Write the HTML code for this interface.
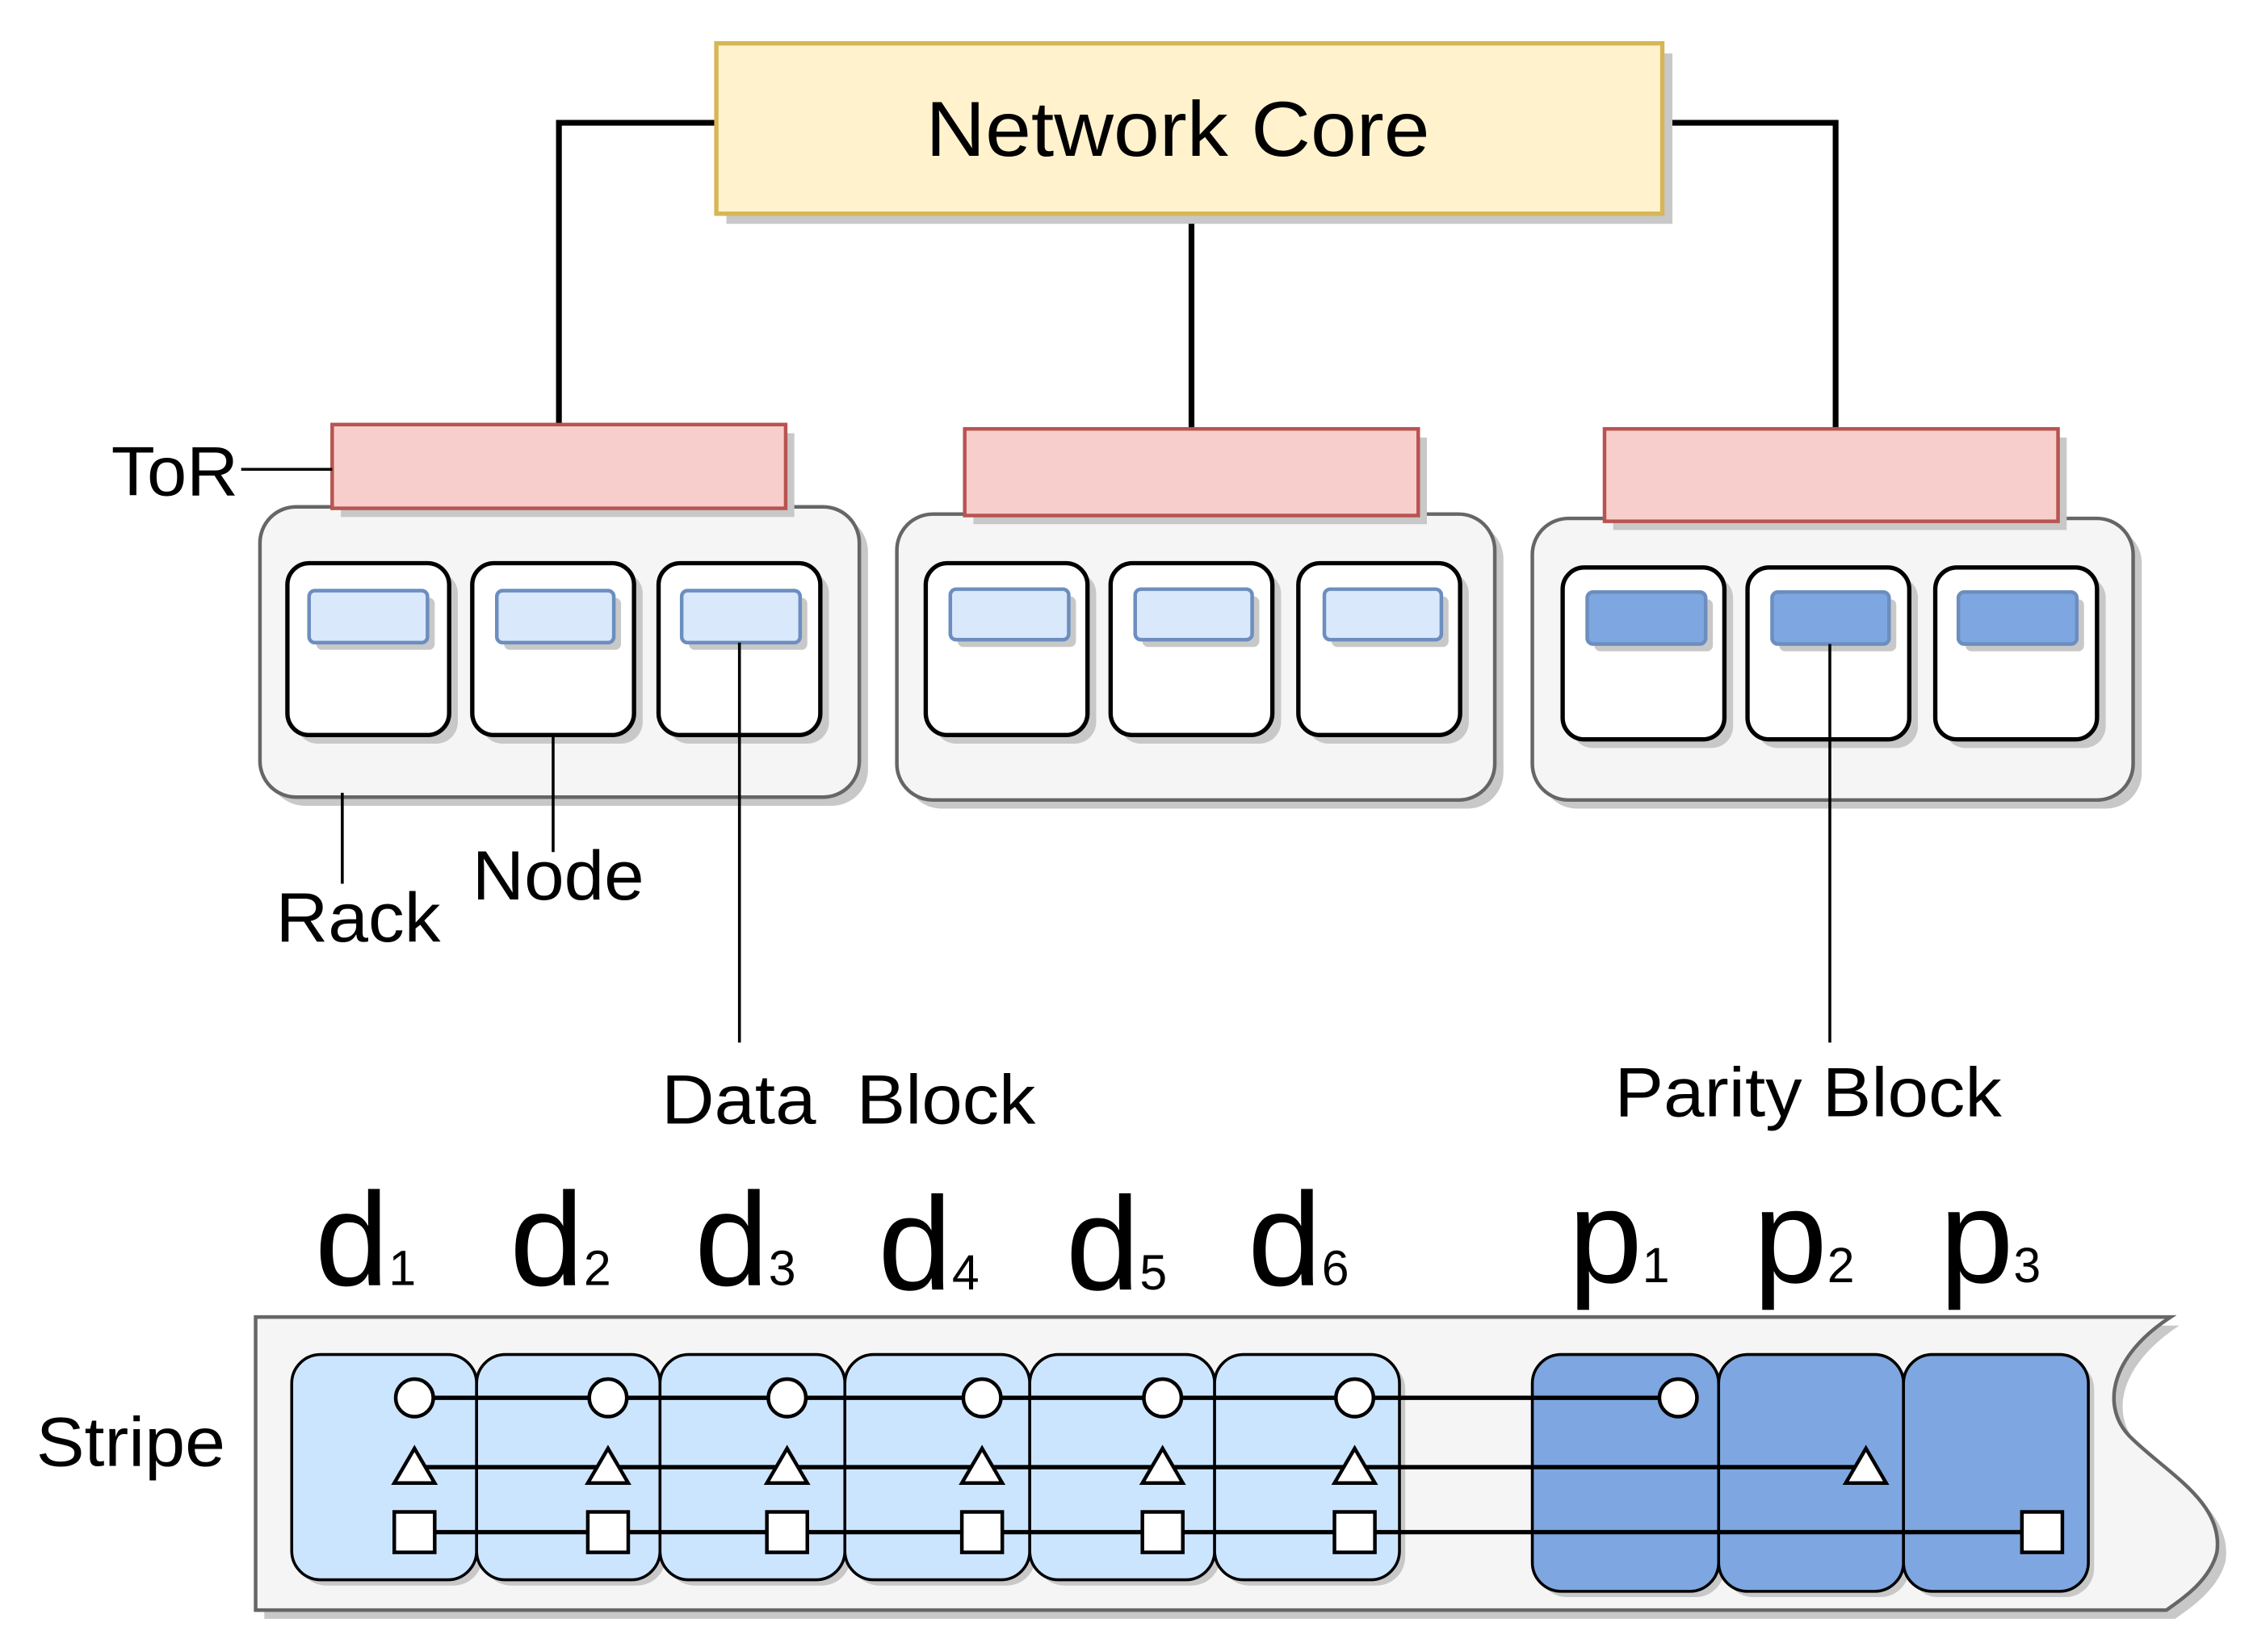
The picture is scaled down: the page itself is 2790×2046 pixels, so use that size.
<!DOCTYPE html>
<html><head><meta charset="utf-8"><style>
html,body{margin:0;padding:0;background:#fff;}
svg{display:block;}
text{font-family:"Liberation Sans",sans-serif;fill:#000;}
</style></head><body>
<svg width="2790" height="2046" viewBox="0 0 1560 1144" preserveAspectRatio="none" xmlns="http://www.w3.org/2000/svg">
<g stroke="#000" stroke-width="4" fill="none">
<path d="M496,85 H387 V295"/>
<path d="M825,148 V297"/>
<path d="M1151,85 H1271 V297"/>
</g>
<rect x="503" y="37" width="655" height="118" fill="#c8c8c8"/>
<rect x="496" y="30" width="655" height="118" fill="#fff2cc" stroke="#d6b656" stroke-width="3"/>
<text x="641" y="108" font-size="54" textLength="349" lengthAdjust="spacingAndGlyphs">Network Core</text>

<g>
<rect x="186" y="357" width="415" height="201" rx="25" fill="#c8c8c8"/>
<rect x="180" y="351" width="415" height="201" rx="25" fill="#f5f5f5" stroke="#666" stroke-width="2.5"/>
<rect x="627" y="362" width="414" height="198" rx="25" fill="#c8c8c8"/>
<rect x="621" y="356" width="414" height="198" rx="25" fill="#f5f5f5" stroke="#666" stroke-width="2.5"/>
<rect x="1067" y="365" width="416" height="195" rx="25" fill="#c8c8c8"/>
<rect x="1061" y="359" width="416" height="195" rx="25" fill="#f5f5f5" stroke="#666" stroke-width="2.5"/>
</g>
<g stroke="#b85450" stroke-width="2.5" fill="#f8cecc">
<rect x="236" y="300" width="314" height="58" fill="#c8c8c8" stroke="none"/>
<rect x="230" y="294" width="314" height="58"/>
<rect x="674" y="303" width="314" height="60" fill="#c8c8c8" stroke="none"/>
<rect x="668" y="297" width="314" height="60"/>
<rect x="1117" y="303" width="314" height="64" fill="#c8c8c8" stroke="none"/>
<rect x="1111" y="297" width="314" height="64"/>
</g>
<g>
<g fill="#c8c8c8">
<rect x="205" y="396" width="112" height="119" rx="15"/><rect x="333" y="396" width="112" height="119" rx="15"/><rect x="462" y="396" width="112" height="119" rx="15"/>
<rect x="647" y="396" width="112" height="119" rx="15"/><rect x="775" y="396" width="112" height="119" rx="15"/><rect x="905" y="396" width="112" height="119" rx="15"/>
<rect x="1088" y="399" width="112" height="119" rx="15"/><rect x="1216" y="399" width="112" height="119" rx="15"/><rect x="1346" y="399" width="112" height="119" rx="15"/>
</g>
<g fill="#fff" stroke="#000" stroke-width="3">
<rect x="199" y="390" width="112" height="119" rx="15"/><rect x="327" y="390" width="112" height="119" rx="15"/><rect x="456" y="390" width="112" height="119" rx="15"/>
<rect x="641" y="390" width="112" height="119" rx="15"/><rect x="769" y="390" width="112" height="119" rx="15"/><rect x="899" y="390" width="112" height="119" rx="15"/>
<rect x="1082" y="393" width="112" height="119" rx="15"/><rect x="1210" y="393" width="112" height="119" rx="15"/><rect x="1340" y="393" width="112" height="119" rx="15"/>
</g>
<g fill="#c8c8c8">
<rect x="219" y="414" width="82" height="36" rx="4"/><rect x="349" y="414" width="81" height="36" rx="4"/><rect x="477" y="414" width="82" height="36" rx="4"/>
<rect x="663" y="413" width="82" height="35" rx="4"/><rect x="791" y="413" width="81" height="35" rx="4"/><rect x="922" y="413" width="81" height="35" rx="4"/>
<rect x="1104" y="415" width="82" height="36" rx="4"/><rect x="1232" y="415" width="81" height="36" rx="4"/><rect x="1361" y="415" width="82" height="36" rx="4"/>
</g>
<g fill="#dae8fc" stroke="#6c8ebf" stroke-width="2.5">
<rect x="214" y="409" width="82" height="36" rx="4"/><rect x="344" y="409" width="81" height="36" rx="4"/><rect x="472" y="409" width="82" height="36" rx="4"/>
<rect x="658" y="408" width="82" height="35" rx="4"/><rect x="786" y="408" width="81" height="35" rx="4"/><rect x="917" y="408" width="81" height="35" rx="4"/>
</g>
<g fill="#7ea6e0" stroke="#6c8ebf" stroke-width="2.5">
<rect x="1099" y="410" width="82" height="36" rx="4"/><rect x="1227" y="410" width="81" height="36" rx="4"/><rect x="1356" y="410" width="82" height="36" rx="4"/>
</g>
</g>
<g stroke="#000" stroke-width="2" fill="none">
<path d="M167,325 H230"/>
<path d="M237,549 V612"/>
<path d="M383,509 V590"/>
<path d="M512,445 V722"/>
<path d="M1267,446 V722"/>
</g>
<text x="77" y="343" font-size="48" textLength="88" lengthAdjust="spacingAndGlyphs">ToR</text>
<text x="191" y="652" font-size="48" textLength="114" lengthAdjust="spacingAndGlyphs">Rack</text>
<text x="327" y="623" font-size="48" textLength="119" lengthAdjust="spacingAndGlyphs">Node</text>
<text x="458" y="778" font-size="48" xml:space="preserve" textLength="259" lengthAdjust="spacingAndGlyphs">Data  Block</text>
<text x="1118" y="773" font-size="48" textLength="268" lengthAdjust="spacingAndGlyphs">Parity Block</text>
<text x="25" y="1015" font-size="48" textLength="131" lengthAdjust="spacingAndGlyphs">Stripe</text>
<g font-size="92">
<text x="218" y="890">d<tspan font-size="34">1</tspan></text>
<text x="353" y="890">d<tspan font-size="34">2</tspan></text>
<text x="481" y="890">d<tspan font-size="34">3</tspan></text>
<text x="608" y="893">d<tspan font-size="34">4</tspan></text>
<text x="738" y="893">d<tspan font-size="34">5</tspan></text>
<text x="864" y="890">d<tspan font-size="34">6</tspan></text>
<text x="1086" y="888">p<tspan font-size="34">1</tspan></text>
<text x="1214" y="888">p<tspan font-size="34">2</tspan></text>
<text x="1343" y="888">p<tspan font-size="34">3</tspan></text>
</g>
<path d="M183,918 H1509 C1466,946 1461,981 1481,1001 C1506,1026 1546,1046 1541,1081 C1536,1101 1516,1114 1506,1121 H183 Z" fill="#c8c8c8"/>
<path d="M177,912 H1503 C1460,940 1455,975 1475,995 C1500,1020 1540,1040 1535,1075 C1530,1095 1510,1108 1500,1115 H177 Z" fill="#f5f5f5" stroke="#666" stroke-width="2.5"/>
<g fill="#c8c8c8">
<rect x="206" y="942" width="128" height="156" rx="20"/><rect x="334" y="942" width="127" height="156" rx="20"/><rect x="461" y="942" width="128" height="156" rx="20"/>
<rect x="589" y="942" width="128" height="156" rx="20"/><rect x="717" y="942" width="128" height="156" rx="20"/><rect x="845" y="942" width="128" height="156" rx="20"/>
<rect x="1065" y="942" width="129" height="164" rx="20"/><rect x="1194" y="942" width="128" height="164" rx="20"/><rect x="1322" y="942" width="128" height="164" rx="20"/>
</g>
<g fill="#cce5ff" stroke="#000" stroke-width="2">
<rect x="202" y="938" width="128" height="156" rx="20"/><rect x="330" y="938" width="127" height="156" rx="20"/><rect x="457" y="938" width="128" height="156" rx="20"/>
<rect x="585" y="938" width="128" height="156" rx="20"/><rect x="713" y="938" width="128" height="156" rx="20"/><rect x="841" y="938" width="128" height="156" rx="20"/>
</g>
<g fill="#7ea6e0" stroke="#000" stroke-width="2">
<rect x="1061" y="938" width="129" height="164" rx="20"/><rect x="1190" y="938" width="128" height="164" rx="20"/><rect x="1318" y="938" width="128" height="164" rx="20"/>
</g>
<g stroke="#000" stroke-width="3" fill="none">
<path d="M287,968 H1162"/>
<path d="M287,1016 H1292"/>
<path d="M287,1061 H1414"/>
</g>
<g fill="#fff" stroke="#000" stroke-width="2.5">
<circle cx="287" cy="968" r="13"/><circle cx="421" cy="968" r="13"/><circle cx="545" cy="968" r="13"/>
<circle cx="680" cy="968" r="13"/><circle cx="805" cy="968" r="13"/><circle cx="938" cy="968" r="13"/><circle cx="1162" cy="968" r="13"/>
<path d="M287,1003 L301,1027 H273 Z"/><path d="M421,1003 L435,1027 H407 Z"/><path d="M545,1003 L559,1027 H531 Z"/>
<path d="M680,1003 L694,1027 H666 Z"/><path d="M805,1003 L819,1027 H791 Z"/><path d="M938,1003 L952,1027 H924 Z"/><path d="M1292,1003 L1306,1027 H1278 Z"/>
<rect x="273" y="1047" width="28" height="28"/><rect x="407" y="1047" width="28" height="28"/><rect x="531" y="1047" width="28" height="28"/>
<rect x="666" y="1047" width="28" height="28"/><rect x="791" y="1047" width="28" height="28"/><rect x="924" y="1047" width="28" height="28"/><rect x="1400" y="1047" width="28" height="28"/>
</g>
</svg>
</body></html>
